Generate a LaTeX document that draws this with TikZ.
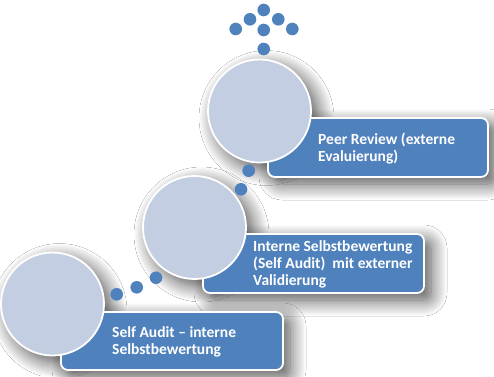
\documentclass[tikz,border=0pt]{standalone}
\usepackage{fontspec}
\setmainfont{Carlito}
\usetikzlibrary{shadows.blur}
\definecolor{boxblue}{HTML}{4F81BD}
\definecolor{circfill}{HTML}{C3CEE3}
\tikzset{
  shad/.style={blur shadow={shadow xshift=7pt, shadow yshift=-7pt, shadow blur radius=16pt, shadow blur steps=16, shadow opacity=70}},
  bigcirc/.style={circle, fill=circfill, draw=white, line width=1.8pt, minimum size=103pt, inner sep=0pt},
  stepbox/.style={rectangle, rounded corners=7pt, fill=boxblue, draw=white, line width=1.8pt, inner sep=0pt},
  dot/.style={circle, fill=boxblue, minimum size=12.6pt, inner sep=0pt},
  lbl/.style={anchor=base west, align=left, inner sep=0pt, text=white, font=\fontsize{15.5}{17}\selectfont\bfseries},
}
\begin{document}
\begin{tikzpicture}[x=1pt, y=-1pt]
\fill[white] (0,0) rectangle (494,376);
\useasboundingbox (0,0) rectangle (494,376);
% shadows
\path[shad] (268,118) [rounded corners=7pt] rectangle (488,177);
\path[shad] (203,234) [rounded corners=7pt] rectangle (424,293);
\path[shad] (61,312) [rounded corners=7pt] rectangle (283,370);
\path[shad] (259.5,111) circle[radius=51.5];
\path[shad] (194.5,227.5) circle[radius=51.5];
\path[shad] (52.5,304) circle[radius=51.5];
% boxes
\node[stepbox, minimum width=220pt, minimum height=59pt] (b3) at (378,147.5) {};
\node[stepbox, minimum width=221pt, minimum height=59pt] (b2) at (313.5,263.5) {};
\node[stepbox, minimum width=222pt, minimum height=58pt] (b1) at (172,341) {};
% circles
\node[bigcirc] (c3) at (259.5,111) {};
\node[bigcirc] (c2) at (194.5,227.5) {};
\node[bigcirc] (c1) at (52.5,304) {};
% texts (anchored at last baseline)
\node[lbl] (t3) at (318,161) {Peer Review (externe\\Evaluierung)};
\node[lbl] (t2) at (253,285.5) {Interne Selbstbewertung\\(Self Audit)\ \ mit externer\\Validierung};
\node[lbl] (t1) at (112,354) {Self Audit -- interne\\Selbstbewertung};
% dots
\node[dot] (d1) at (263.7,10) {};
\node[dot] (d2) at (250,19.3) {};
\node[dot] (d3) at (278.3,19.3) {};
\node[dot] (d4) at (235.7,29) {};
\node[dot] (d5) at (263.7,30) {};
\node[dot] (d6) at (292.3,29) {};
\node[dot] (d7) at (263.7,49) {};
\node[dot] (e1) at (248.7,170.7) {};
\node[dot] (e2) at (241,189.3) {};
\node[dot] (f1) at (156,277.7) {};
\node[dot] (f2) at (136.7,287.3) {};
\node[dot] (f3) at (116.7,294.3) {};
\end{tikzpicture}
\end{document}
